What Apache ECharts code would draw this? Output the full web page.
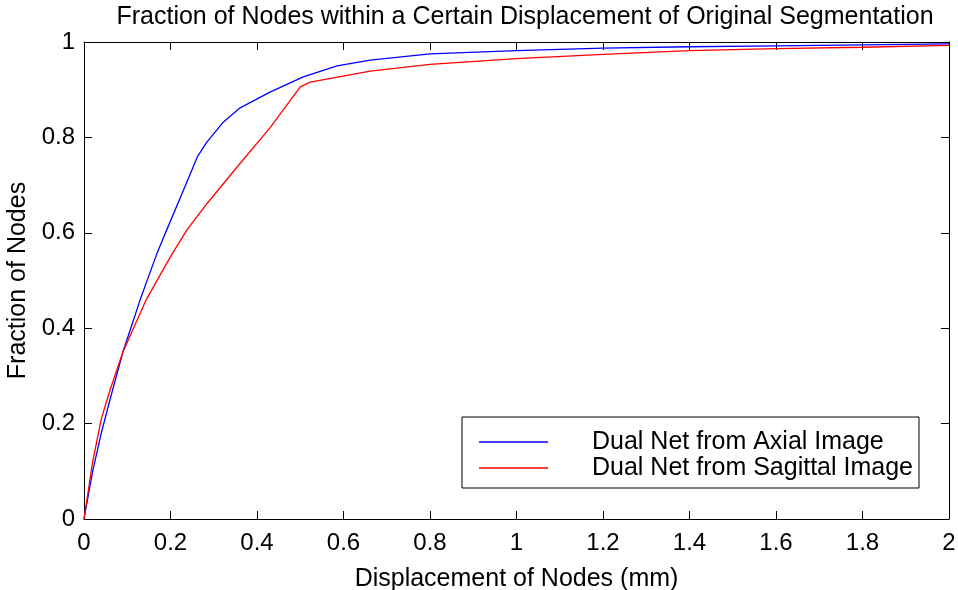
<!DOCTYPE html>
<html>
<head>
<meta charset="utf-8">
<script src="https://cdn.jsdelivr.net/npm/echarts@6/dist/echarts.min.js"></script>
<style>
html,body{margin:0;padding:0;background:#fff}
#main{width:958px;height:590px}
</style>
</head>
<body>
<div id="main"></div>
<script>
var axialX = [0, 0.02, 0.04, 0.06, 0.09, 0.13, 0.17, 0.2, 0.235, 0.262, 0.284, 0.322, 0.361, 0.43, 0.507, 0.585, 0.662, 0.8, 1.0, 1.2, 1.4, 1.6, 1.8, 2.0]
var axialY = [0, 0.10, 0.18, 0.25, 0.35, 0.46, 0.56, 0.625, 0.70, 0.759, 0.79, 0.832, 0.862, 0.895, 0.927, 0.95, 0.962, 0.975, 0.982, 0.987, 0.99, 0.992, 0.994, 0.996]
var sagX = [0, 0.02, 0.04, 0.06, 0.09, 0.144, 0.2, 0.238, 0.285, 0.354, 0.43, 0.5, 0.523, 0.662, 0.8, 1.0, 1.2, 1.4, 1.6, 1.8, 2.0]
var sagY = [0, 0.12, 0.21, 0.27, 0.35, 0.46, 0.55, 0.606, 0.662, 0.738, 0.82, 0.906, 0.916, 0.939, 0.953, 0.965, 0.974, 0.982, 0.986, 0.989, 0.993]
var names = ['Dual Net from Axial Image', 'Dual Net from Sagittal Image']

function pairs(xs, ys){
	var out = []
	for (var i = 0; i < xs.length; i++) out.push([xs[i], ys[i]])
	return out
}

var font = 'Liberation Sans, Arial, Helvetica, sans-serif'
var fs = 25
var chart = echarts.init(document.getElementById('main'))

var tickIn = {show: true, inside: true, length: 8, lineStyle: {color: '#000'}}
var lineBlack = {show: true, onZero: false, lineStyle: {color: '#000', width: 1}}
function fmt(v){ return String(+v.toFixed(1)) }

var option = {
	animation: false,
	backgroundColor: '#fff',
	textStyle: {fontFamily: font},
	title: {
		text: 'Fraction of Nodes within a Certain Displacement of Original Segmentation',
		left: 520, textAlign: 'center', top: 0,
		textStyle: {fontSize: fs, fontWeight: 'normal', color: '#000', fontFamily: font}
	},
	grid: {left: 84, right: 9, top: 42, bottom: 71, outerBoundsMode: 'none', containLabel: false},
	legend: {
		orient: 'vertical',
		left: 479, top: 429, padding: 0,
		itemWidth: 69, itemHeight: 1.5, itemGap: 0,
		icon: 'rect',
		data: names,
		textStyle: {fontSize: fs, color: '#000', fontFamily: font, lineHeight: 24, padding: [2, 0, 0, 39]}
	},
	graphic: [{
		type: 'rect', z: 100,
		shape: {x: 462, y: 417, width: 457, height: 71},
		style: {fill: 'none', stroke: '#000', lineWidth: 1}
	}],
	xAxis: [{
		type: 'value', min: 0, max: 2, interval: 0.2,
		name: 'Displacement of Nodes (mm)', nameLocation: 'middle', nameGap: 48,
		nameTextStyle: {fontSize: fs, color: '#000', fontFamily: font},
		axisLine: lineBlack, axisTick: tickIn, splitLine: {show: false},
		axisLabel: {fontSize: 24, color: '#000', margin: 12, fontFamily: font, formatter: fmt}
	}, {
		type: 'value', min: 0, max: 2, interval: 0.2, position: 'top',
		axisLine: lineBlack, axisTick: tickIn, splitLine: {show: false}, axisLabel: {show: false}
	}],
	yAxis: [{
		type: 'value', min: 0, max: 1, interval: 0.2,
		name: 'Fraction of Nodes', nameLocation: 'middle', nameGap: 48,
		nameTextStyle: {fontSize: fs, color: '#000', fontFamily: font},
		axisLine: lineBlack, axisTick: tickIn, splitLine: {show: false},
		axisLabel: {fontSize: 24, color: '#000', margin: 9, fontFamily: font, formatter: fmt}
	}, {
		type: 'value', min: 0, max: 1, interval: 0.2, position: 'right',
		axisLine: lineBlack, axisTick: tickIn, splitLine: {show: false}, axisLabel: {show: false}
	}],
	series: [{
		name: names[0], type: 'line', showSymbol: false, symbol: 'none',
		data: pairs(axialX, axialY),
		lineStyle: {color: '#0000ff', width: 1.3}, itemStyle: {color: '#0000ff'}
	}, {
		name: names[1], type: 'line', showSymbol: false, symbol: 'none',
		data: pairs(sagX, sagY),
		lineStyle: {color: '#ff0000', width: 1.3}, itemStyle: {color: '#ff0000'}
	}]
}
chart.setOption(option)
</script>
</body>
</html>
